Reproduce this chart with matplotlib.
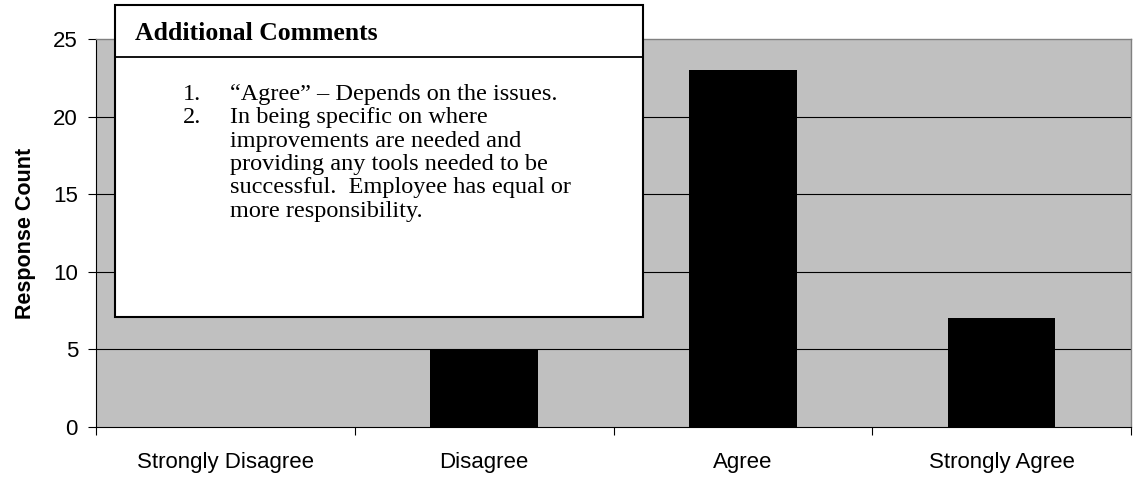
import matplotlib
matplotlib.use("Agg")
import matplotlib.pyplot as plt
from matplotlib.patches import Rectangle
from matplotlib.lines import Line2D
import numpy as np

categories = ["Strongly Disagree", "Disagree", "Agree", "Strongly Agree"]
counts = [0, 5, 23, 7]
yticks = [0, 5, 10, 15, 20, 25]
box_title = "Additional Comments"
box_items = [
    ("1.", ["\u201cAgree\u201d \u2013 Depends on the issues."]),
    ("2.", ["In being specific on where",
            "improvements are needed and",
            "providing any tools needed to be",
            "successful.  Employee has equal or",
            "more responsibility."]),
]

W, H = 1134, 480
fig = plt.figure(figsize=(W / 100, H / 100), dpi=100)

def fx(px):
    return px / W

def fy(py):
    return 1 - py / H

ax = fig.add_axes([fx(96), fy(427), fx(1131) - fx(96), fy(39) - fy(427)])
ax.set_facecolor("#C0C0C0")
x = np.arange(len(categories))
ax.bar(x, counts, width=0.415, color="black", zorder=3)
ax.set_xlim(-0.5, len(categories) - 0.5)
ax.set_ylim(0, 25)
ax.set_yticks(yticks)
ax.set_yticklabels([str(t) for t in yticks], fontsize=16, family="Liberation Sans")
for t in yticks[1:-1]:
    ax.axhline(t, color="black", linewidth=0.8, zorder=2)
ax.set_xticks(x)
ax.set_xticklabels(categories, fontsize=16, family="Liberation Sans")
ax.set_xticks(np.arange(len(categories) + 1) - 0.5, minor=True)
ax.tick_params(axis="x", which="major", length=0, pad=18)
ax.tick_params(axis="x", which="minor", length=6, width=0.8, direction="out")
ax.tick_params(axis="y", length=6, width=0.8, direction="out", pad=7)
for s in ["left", "bottom"]:
    ax.spines[s].set_color("black")
    ax.spines[s].set_linewidth(0.8)
for s in ["top", "right"]:
    ax.spines[s].set_color("#808080")
    ax.spines[s].set_linewidth(1.0)
ax.set_ylabel("Response Count", fontsize=15.5, fontweight="bold",
              family="Liberation Sans", labelpad=12)

# Comment box
bx0, by0, bx1, by1 = 115, 5, 643, 317
rect = Rectangle((fx(bx0), fy(by1)), fx(bx1) - fx(bx0), fy(by0) - fy(by1),
                 transform=fig.transFigure, facecolor="white", edgecolor="black",
                 linewidth=1.5, zorder=10)
fig.add_artist(rect)
fig.add_artist(Line2D([fx(bx0), fx(bx1)], [fy(57), fy(57)],
                      transform=fig.transFigure, color="black", linewidth=1.3, zorder=11))
fig.text(fx(135), fy(40.5), box_title, fontsize=18.5, fontweight="bold",
         family="Liberation Serif", va="baseline", ha="left", zorder=12)
line_h = 23.3
base = 100
row = 0
for num, lines in box_items:
    fig.text(fx(183), fy(base + row * line_h), num, fontsize=17.5,
             family="Liberation Serif", va="baseline", ha="left", zorder=12)
    for ln in lines:
        fig.text(fx(230), fy(base + row * line_h), ln, fontsize=17.5,
                 family="Liberation Serif", va="baseline", ha="left", zorder=12)
        row += 1

fig.savefig("out.png", dpi=100)
